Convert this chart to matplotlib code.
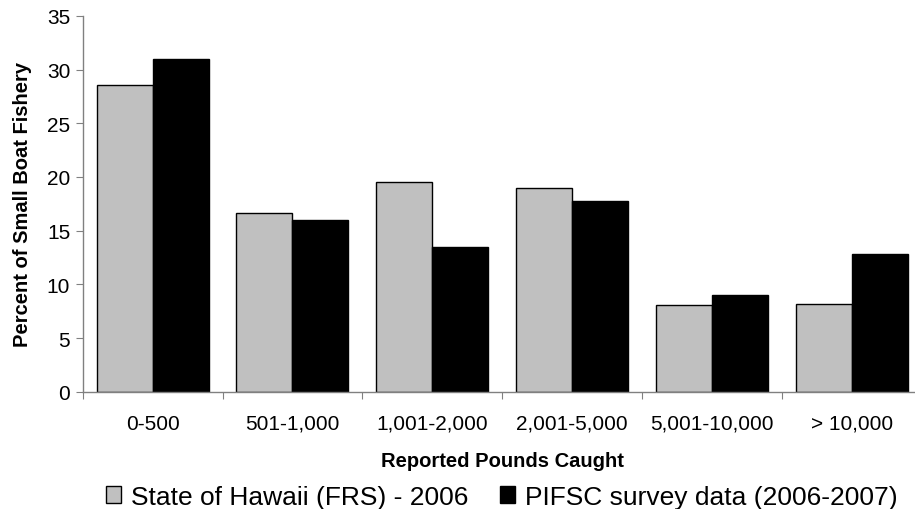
import numpy as np
import matplotlib
matplotlib.use("Agg")
import matplotlib.pyplot as plt

plt.rcParams['font.family'] = ['Liberation Sans', 'DejaVu Sans']

categories = ["0-500", "501-1,000", "1,001-2,000", "2,001-5,000", "5,001-10,000", "> 10,000"]
frs_2006 = [28.6, 16.6, 19.5, 19.0, 8.1, 8.2]
pifsc_2006_2007 = [31.0, 16.0, 13.5, 17.8, 9.0, 12.8]
series_names = ["State of Hawaii (FRS) - 2006", "PIFSC survey data (2006-2007)"]


def make_plot():
    fig = plt.figure(figsize=(9.15, 5.1), dpi=100)
    ax = fig.add_axes([0.0904, 0.230, 0.9167, 0.737])

    x = np.arange(len(categories))
    w = 0.4
    b1 = ax.bar(x - w / 2, frs_2006, w, color="#c0c0c0", edgecolor="black", linewidth=1.0)
    b2 = ax.bar(x + w / 2, pifsc_2006_2007, w, color="black", edgecolor="black", linewidth=1.0)

    ax.set_xlim(-0.5, len(categories) - 0.5)
    ax.set_ylim(0, 35)
    ax.set_yticks(range(0, 36, 5))

    # category boundaries get the tick marks, names sit between them
    ax.set_xticks(np.arange(-0.5, len(categories), 1.0))
    ax.set_xticklabels([])
    ax.set_xticks(x, minor=True)
    ax.set_xticklabels(categories, minor=True, fontsize=15)
    ax.tick_params(axis="x", which="minor", length=0, pad=16)
    ax.tick_params(axis="x", which="major", length=5, color="#808080", direction="out")
    ax.tick_params(axis="y", length=5, color="#808080", labelsize=15, pad=4)

    for side in ("top", "right"):
        ax.spines[side].set_visible(False)
    for side in ("left", "bottom"):
        ax.spines[side].set_color("#808080")
        ax.spines[side].set_linewidth(1.0)

    ax.set_ylabel("Percent of Small Boat Fishery", fontsize=14.5, fontweight="bold", labelpad=11)
    ax.set_xlabel("Reported Pounds Caught", fontsize=14.5, fontweight="bold", labelpad=13)

    fig.legend([b1, b2], series_names, loc="center", bbox_to_anchor=(0.548, 0.024),
               ncol=2, frameon=False, fontsize=19, handlelength=0.6, handleheight=0.6,
               handletextpad=0.35, columnspacing=1.2, borderaxespad=0, borderpad=0)
    return fig, ax


def main():
    fig, _ = make_plot()
    fig.savefig("out.png", dpi=100)


if __name__ == "__main__":
    main()
